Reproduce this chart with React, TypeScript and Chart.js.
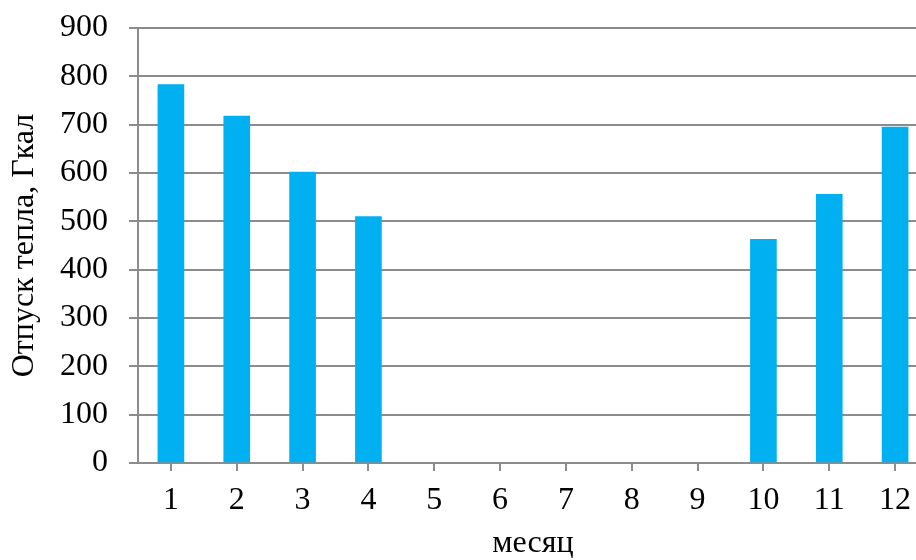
import React, { useEffect, useRef } from "react";
import { Chart, registerables } from "chart.js";

Chart.register(...registerables);

const months = ["1", "2", "3", "4", "5", "6", "7", "8", "9", "10", "11", "12"];
const heatOutput = [783, 718, 602, 510, 0, 0, 0, 0, 0, 463, 556, 695];
const yTitle = "Отпуск тепла, Гкал";
const xTitle = "месяц";

export default function App() {
  const ref = useRef<HTMLCanvasElement | null>(null);
  useEffect(() => {
    if (!ref.current) return;
    const family = "'Liberation Serif', 'Times New Roman', serif";
    const f = { family, size: 32, lineHeight: 1 };
    const grid = "#8c8c8c";
    const chart = new Chart(ref.current, {
      type: "bar",
      data: {
        labels: months,
        datasets: [
          {
            data: heatOutput,
            backgroundColor: (c: any) => (c.raw ? "#00b0f0" : "rgba(0,0,0,0)"),
            borderWidth: 0,
            barThickness: 26,
          },
        ],
      },
      options: {
        animation: false,
        responsive: false,
        maintainAspectRatio: false,
        layout: { padding: { top: 28, right: 0, bottom: 0, left: 9 } },
        plugins: { legend: { display: false }, tooltip: { enabled: false } },
        scales: {
          x: {
            offset: true,
            afterFit: (s: any) => {
              s.height = 97;
            },
            grid: {
              offset: false,
              drawOnChartArea: false,
              drawTicks: true,
              tickLength: 8,
              color: grid,
              lineWidth: 2,
            },
            border: { color: grid, width: 2 },
            ticks: { color: "#000", font: f, padding: 14, maxRotation: 0, autoSkip: false },
            title: { display: true, text: xTitle, color: "#000", font: f, padding: { top: 12, bottom: 0 } },
          },
          y: {
            min: 0,
            max: 900,
            afterFit: (s: any) => {
              s.width = 129;
              s.paddingTop = 0;
              s.paddingBottom = 0;
            },
            ticks: { stepSize: 100, color: "#000", font: f, padding: 21 },
            grid: { color: grid, lineWidth: 2, drawTicks: true, tickLength: 9 },
            border: { color: grid, width: 2 },
            title: { display: true, text: yTitle, color: "#000", font: f, padding: { top: 0, bottom: 18 } },
          },
        },
      },
    });
    return () => chart.destroy();
  }, []);
  return (
    <div style={{ position: "absolute", left: 0, top: 0, width: 916, height: 560, overflow: "hidden", background: "#fff" }}>
      <canvas ref={ref} width={928} height={560} style={{ display: "block" }} />
    </div>
  );
}
